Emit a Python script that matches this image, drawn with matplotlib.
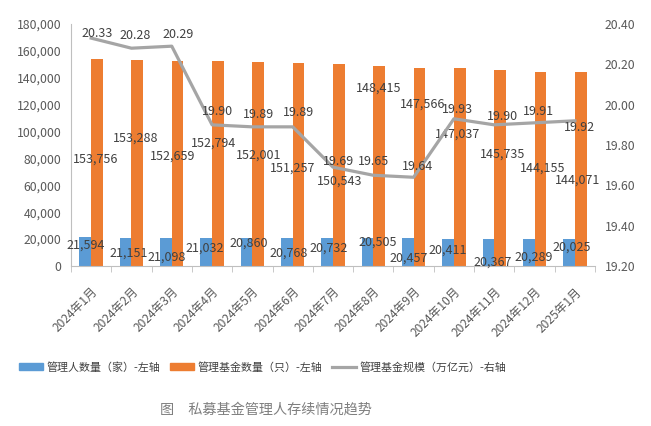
import matplotlib
matplotlib.use("Agg")
import matplotlib.pyplot as plt
from matplotlib.patches import Patch
from matplotlib.lines import Line2D
from matplotlib.ticker import FuncFormatter, FixedLocator
import numpy as np

plt.rcParams['font.family'] = ['Noto Sans CJK SC', 'DejaVu Sans']

months = ["2024年1月", "2024年2月", "2024年3月", "2024年4月", "2024年5月", "2024年6月",
          "2024年7月", "2024年8月", "2024年9月", "2024年10月", "2024年11月", "2024年12月",
          "2025年1月"]
managers = [21594, 21151, 21098, 21032, 20860, 20768, 20732, 20505, 20457, 20411, 20367, 20289, 20025]
funds = [153756, 153288, 152659, 152794, 152001, 151257, 150543, 148415, 147566, 147037, 145735, 144155, 144071]
scale = [20.33, 20.28, 20.29, 19.90, 19.89, 19.89, 19.69, 19.65, 19.64, 19.93, 19.90, 19.91, 19.92]

# label placement (data units / pixel offsets), separate from data
mgr_lab_y = [15500, 9600, 6600, 13300, 17000, 9600, 13300, 17700, 5900, 11800, 3000, 6600, 14000]
mgr_lab_dx = [-5, -3, -5, -7, -4, -4, -4, 4, -5, -6, -2, -1, -3]
fund_lab_y = [79700, 95200, 81900, 91500, 82600, 73000, 63400, 132000, 120200, 98100, 83400, 73000, 64200]
fund_lab_dx = [4, 4, 1, 1, 6, 0, 7, 5, 9, 4, 8, 8, 3]
scale_lab_y = [20.355, 20.345, 20.35, 19.964, 19.949, 19.959, 19.716, 19.716, 19.691, 19.974, 19.939, 19.964, 19.889]
scale_lab_dx = [6, 4, 6, 5, 6, 6, 5, 0, 4, 4, 8, 4, 5]

C_BLUE = "#5B9BD5"
C_ORANGE = "#ED7D31"
C_GRAY = "#A5A5A5"
TXT = "#404040"

fig = plt.figure(figsize=(6.51, 4.26), dpi=100)
ax = fig.add_axes([71/651, 1-266/426, (595-71)/651, (266-24)/426])
ax2 = ax.twinx()

x = np.arange(len(months))
w = 0.29
ax.bar(x - w/2, managers, width=w, color=C_BLUE, zorder=2)
ax.bar(x + w/2, funds, width=w, color=C_ORANGE, zorder=2)
ax2.plot(x, scale, color=C_GRAY, lw=2.3, zorder=3)

ax.set_ylim(0, 180000)
ax.set_yticks(np.arange(0, 180001, 20000))
ax.yaxis.set_major_formatter(FuncFormatter(lambda v, p: f"{int(v):,}"))
ax2.set_ylim(19.2, 20.4)
ax2.set_yticks(np.arange(19.2, 20.41, 0.2))
ax2.yaxis.set_major_formatter(FuncFormatter(lambda v, p: f"{v:.2f}"))
ax.set_xlim(-0.5, len(months) - 0.5)

ax.set_xticks(x)
ax.set_xticklabels(months, rotation=45, ha='right', rotation_mode='anchor')
ax.xaxis.set_minor_locator(FixedLocator(np.arange(-0.5, len(months), 1.0)))
ax.tick_params(axis='x', which='major', length=0, pad=14, labelsize=8.6, labelcolor="#595959")
ax.tick_params(axis='x', which='minor', length=4, color="#BFBFBF")
ax.tick_params(axis='y', length=0, pad=7, labelsize=8.8, labelcolor="#595959")
ax2.tick_params(axis='y', length=0, pad=7, labelsize=8.8, labelcolor="#595959")

for a in (ax, ax2):
    for s in ("top", "right"):
        a.spines[s].set_visible(False)
ax2.spines["left"].set_visible(False)
ax2.spines["bottom"].set_visible(False)
ax.spines["left"].set_color("#BFBFBF")
ax.spines["bottom"].set_color("#BFBFBF")

px = 1 / 40.3
fs = 9
for i in range(len(months)):
    ax.text(i + mgr_lab_dx[i]*px, mgr_lab_y[i], f"{managers[i]:,}", ha='center', va='center',
            fontsize=fs, color=TXT, zorder=5)
    ax.text(i + fund_lab_dx[i]*px, fund_lab_y[i], f"{funds[i]:,}", ha='center', va='center',
            fontsize=fs, color=TXT, zorder=5)
    ax2.text(i + scale_lab_dx[i]*px, scale_lab_y[i], f"{scale[i]:.2f}", ha='center', va='center',
             fontsize=fs, color=TXT, zorder=5)

handles = [Patch(color=C_BLUE), Patch(color=C_ORANGE), Line2D([], [], color=C_GRAY, lw=2.3)]
labels = ["管理人数量（家）-左轴", "管理基金数量（只）-左轴", "管理基金规模（万亿元）-右轴"]
fig.legend(handles, labels, loc='center left', bbox_to_anchor=(9/651, 1-367/426), ncol=3,
           frameon=False, fontsize=7.9, handlelength=2.2, handletextpad=0.3, columnspacing=0.9,
           labelcolor="#404040")

fig.text(160/651, 1-410/426, "图　私募基金管理人存续情况趋势", fontsize=10.2, color="#7F7F7F",
         ha='left', va='center')

fig.savefig("out.png", dpi=100)
